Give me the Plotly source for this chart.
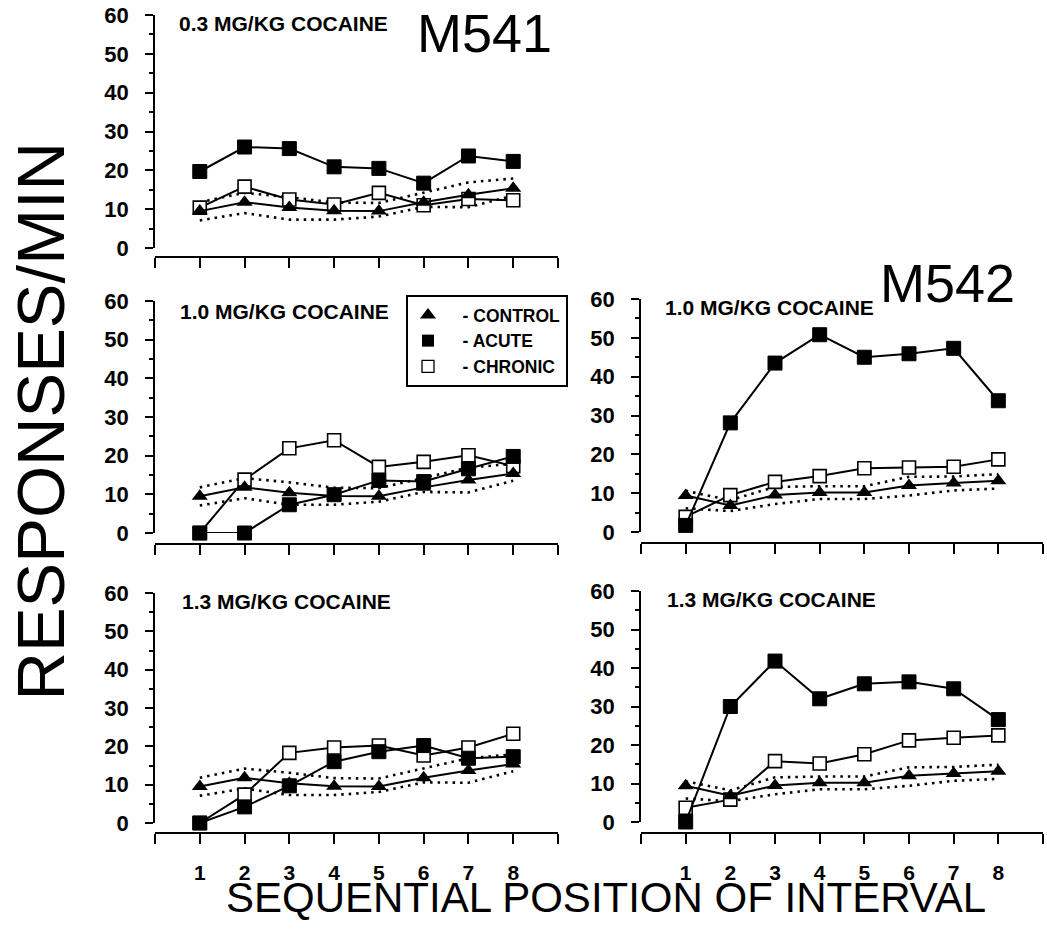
import plotly.graph_objects as go

W, H = 1047, 934

intervals = [1, 2, 3, 4, 5, 6, 7, 8]
tick_positions = [0, 1, 2, 3, 4, 5, 6, 7, 8, 9]
tick_labels_bottom = ["", "1", "2", "3", "4", "5", "6", "7", "8", ""]
tick_labels_blank = [""] * 10
y_ticks = [0, 10, 20, 30, 40, 50, 60]

# M541 shared control data and control band (dotted)
m541_control = [9.5, 11.8, 10.4, 9.6, 9.5, 11.8, 13.7, 15.4]
m541_upper = [11.8, 14.2, 13.1, 11.7, 11.6, 14.2, 16.9, 17.9]
m541_lower = [7.1, 9.0, 7.3, 7.3, 8.1, 10.6, 10.5, 13.5]
m541_acute_03 = [19.7, 26.0, 25.6, 20.9, 20.5, 16.7, 23.7, 22.3]
m541_chronic_03 = [10.4, 15.8, 12.5, 11.2, 14.2, 11.0, 12.6, 12.3]
m541_acute_10 = [0.0, 0.0, 7.3, 9.9, 13.6, 13.3, 16.6, 19.8]
m541_chronic_10 = [0.0, 13.8, 21.9, 24.0, 17.1, 18.4, 20.1, 17.3]
m541_acute_13 = [0.0, 4.2, 9.7, 16.0, 18.6, 20.2, 16.9, 17.3]
m541_chronic_13 = [0.0, 7.4, 18.3, 19.7, 20.2, 17.6, 19.7, 23.3]

# M542
m542_control = [9.4, 6.8, 9.5, 10.2, 10.2, 12.0, 12.6, 13.2]
m542_upper = [10.6, 8.2, 11.6, 11.8, 11.8, 14.2, 14.3, 14.9]
m542_lower = [6.1, 5.4, 7.2, 8.5, 8.5, 9.4, 10.7, 11.2]
m542_acute_10 = [1.7, 28.1, 43.5, 50.8, 45.0, 45.9, 47.3, 33.8]
m542_chronic_10 = [3.9, 9.5, 12.9, 14.4, 16.4, 16.6, 16.8, 18.7]
m542_acute_13 = [0.0, 30.0, 41.8, 32.0, 35.9, 36.4, 34.6, 26.6]
m542_chronic_13 = [3.7, 5.8, 15.8, 15.2, 17.6, 21.2, 21.9, 22.5]

panel_titles = ["0.3 MG/KG COCAINE", "1.0 MG/KG COCAINE", "1.0 MG/KG COCAINE",
                "1.3 MG/KG COCAINE", "1.3 MG/KG COCAINE"]
legend_names = ["\u00a0\u00a0\u00a0- CONTROL", "\u00a0\u00a0\u00a0- ACUTE",
                "\u00a0\u00a0\u00a0- CHRONIC"]

FONT = "Liberation Sans, Arial, Helvetica, sans-serif"

panels = [
    dict(xl=155, xr=558, y0=248, y60=15, xline=257, bottom=False,
         acute=m541_acute_03, chronic=m541_chronic_03, control=m541_control,
         up=m541_upper, lo=m541_lower, title=panel_titles[0], tx=283, ty=24),
    dict(xl=155, xr=558, y0=533, y60=301, xline=544, bottom=False,
         acute=m541_acute_10, chronic=m541_chronic_10, control=m541_control,
         up=m541_upper, lo=m541_lower, title=panel_titles[1], tx=284, ty=311),
    dict(xl=641, xr=1043, y0=532, y60=299, xline=543, bottom=False,
         acute=m542_acute_10, chronic=m542_chronic_10, control=m542_control,
         up=m542_upper, lo=m542_lower, title=panel_titles[2], tx=769, ty=307),
    dict(xl=155, xr=558, y0=823, y60=593, xline=833, bottom=True,
         acute=m541_acute_13, chronic=m541_chronic_13, control=m541_control,
         up=m541_upper, lo=m541_lower, title=panel_titles[3], tx=286, ty=601),
    dict(xl=641, xr=1043, y0=822, y60=591, xline=833, bottom=True,
         acute=m542_acute_13, chronic=m542_chronic_13, control=m542_control,
         up=m542_upper, lo=m542_lower, title=panel_titles[4], tx=771, ty=599),
]

fig = go.Figure()
annotations = []
layout = {}

for i, p in enumerate(panels, start=1):
    xa = "x" if i == 1 else f"x{i}"
    ya = "y" if i == 1 else f"y{i}"
    xkey = "xaxis" if i == 1 else f"xaxis{i}"
    ykey = "yaxis" if i == 1 else f"yaxis{i}"

    common = dict(xaxis=xa, yaxis=ya, showlegend=False, cliponaxis=False,
                  hoverinfo="skip")
    dot = dict(color="black", width=2.6, dash="2.5px,5px")
    fig.add_trace(go.Scatter(x=intervals, y=p["up"], mode="lines", line=dot, **common))
    fig.add_trace(go.Scatter(x=intervals, y=p["lo"], mode="lines", line=dot, **common))
    fig.add_trace(go.Scatter(x=intervals, y=p["chronic"], mode="lines+markers",
                             line=dict(color="black", width=2),
                             marker=dict(symbol="square", size=13, color="white",
                                         line=dict(color="black", width=1.6)),
                             **common))
    fig.add_trace(go.Scatter(x=intervals, y=p["acute"], mode="lines+markers",
                             line=dict(color="black", width=2),
                             marker=dict(symbol="square", size=14, color="black",
                                         line=dict(color="black", width=1)),
                             **common))
    fig.add_trace(go.Scatter(x=intervals, y=p["control"], mode="lines+markers",
                             line=dict(color="black", width=2),
                             marker=dict(symbol="triangle-up", size=14, color="black",
                                         line=dict(color="black", width=0)),
                             **common))

    layout[xkey] = dict(
        domain=[p["xl"] / W, p["xr"] / W], range=[0, 9], anchor="free",
        position=1 - p["xline"] / H, automargin=False,
        tickmode="array", tickvals=tick_positions,
        ticktext=tick_labels_bottom if p["bottom"] else tick_labels_blank,
        ticks="outside", ticklen=10, tickwidth=1.5, tickcolor="black",
        showline=True, linecolor="black", linewidth=1.6,
        showgrid=False, zeroline=False, ticklabelstandoff=11,
        tickfont=dict(family=FONT, size=21, color="black", weight="bold"),
    )
    layout[ykey] = dict(
        domain=[1 - p["y0"] / H, 1 - p["y60"] / H], range=[0, 60], anchor=xa,
        automargin=False,
        tickmode="array", tickvals=y_ticks,
        ticks="outside", ticklen=8, tickwidth=1.5, tickcolor="black",
        minor=dict(dtick=5, ticks="outside", ticklen=4, tickwidth=1.5, tickcolor="black"),
        showline=True, linecolor="black", linewidth=1.6,
        showgrid=False, zeroline=False, ticklabelstandoff=12,
        tickfont=dict(family=FONT, size=22, color="black", weight="bold"),
    )
    annotations.append(dict(
        text=p["title"], x=p["tx"] / W, y=1 - p["ty"] / H, xref="paper", yref="paper",
        xanchor="center", yanchor="middle", showarrow=False,
        font=dict(family=FONT, size=21, color="black", weight="bold"),
    ))

# Legend-only traces
fig.add_trace(go.Scatter(x=[None], y=[None], mode="markers", name=legend_names[0],
                         marker=dict(symbol="triangle-up", size=14, color="black")))
fig.add_trace(go.Scatter(x=[None], y=[None], mode="markers", name=legend_names[1],
                         marker=dict(symbol="square", size=12, color="black")))
fig.add_trace(go.Scatter(x=[None], y=[None], mode="markers", name=legend_names[2],
                         marker=dict(symbol="square", size=12, color="white",
                                     line=dict(color="black", width=1.3))))

annotations += [
    dict(text="M541", x=484.5 / W, y=1 - 33 / H, xref="paper", yref="paper",
         xanchor="center", yanchor="middle", showarrow=False,
         font=dict(family=FONT, size=54, color="black")),
    dict(text="M542", x=947.5 / W, y=1 - 283 / H, xref="paper", yref="paper",
         xanchor="center", yanchor="middle", showarrow=False,
         font=dict(family=FONT, size=54, color="black")),
    dict(text="RESPONSES/MIN", x=0, y=1 - 422 / H, xref="paper", yref="paper",
         xanchor="left", yanchor="middle", showarrow=False, textangle=-90,
         font=dict(family=FONT, size=67, color="black")),
    dict(text="SEQUENTIAL POSITION OF INTERVAL", x=606 / W, y=1 - 897 / H,
         xref="paper", yref="paper", xanchor="center", yanchor="middle",
         showarrow=False, font=dict(family=FONT, size=42, color="black")),
]

fig.update_layout(
    width=W, height=H, margin=dict(l=0, r=0, t=0, b=0, autoexpand=False),
    paper_bgcolor="white", plot_bgcolor="white",
    annotations=annotations,
    showlegend=True,
    legend=dict(x=406 / W, y=1 - 295 / H, xanchor="left", yanchor="top",
                bgcolor="white", bordercolor="black", borderwidth=2,
                itemwidth=30,
                font=dict(family=FONT, size=17.5, color="black", weight="bold")),
    **layout,
)

fig.write_html("out.html",
               config={"displayModeBar": False},
               post_script="document.body.style.margin='0px';"
                           "document.body.style.overflow='hidden';")
